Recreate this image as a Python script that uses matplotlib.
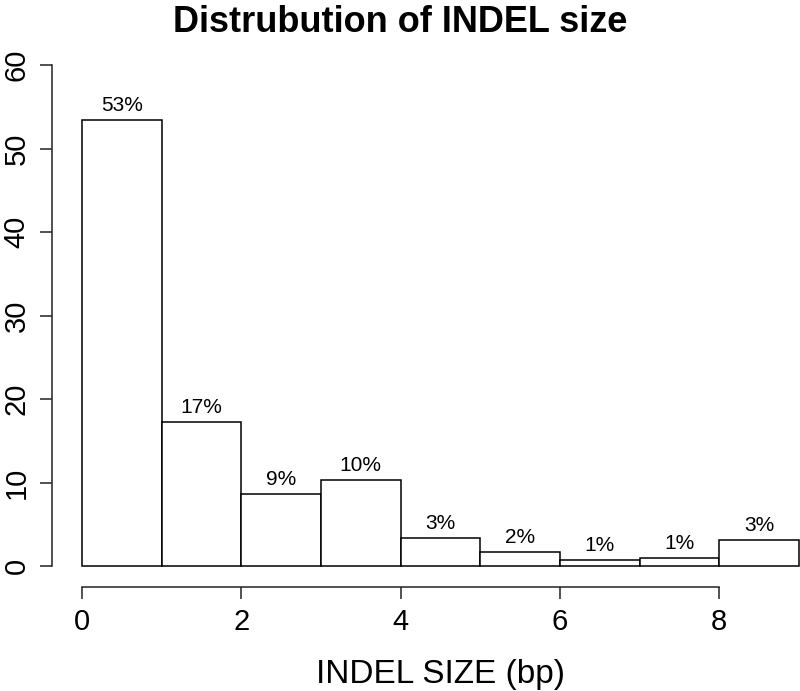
import matplotlib
matplotlib.use("Agg")
import matplotlib.pyplot as plt
import numpy as np

# histogram of indel sizes (percent per 1 bp bin)
bin_left = [0, 1, 2, 3, 4, 5, 6, 7, 8]
pct = [53.4, 17.2, 8.6, 10.3, 3.3, 1.7, 0.75, 0.96, 3.1]
pct_labels = ["53%", "17%", "9%", "10%", "3%", "2%", "1%", "1%", "3%"]
xticks = [0, 2, 4, 6, 8]
yticks = [0, 10, 20, 30, 40, 50, 60]

plt.rcParams['font.family'] = ['Liberation Sans', 'DejaVu Sans']

fig = plt.figure(figsize=(8, 6.91), dpi=100)
W, H = 800, 691
ax = fig.add_axes([82 / W, (H - 566) / H, 717 / W, (566 - 65) / H])

ax.bar(bin_left, pct, width=1, align='edge', color='white',
       edgecolor='black', linewidth=1.1, clip_on=False)
for x, h, lab in zip(bin_left, pct, pct_labels):
    ax.text(x + 0.5, h + 0.6, lab, ha='center', va='bottom', fontsize=15)

ax.set_xlim(0, 9)
ax.set_ylim(0, 60)

# R-style detached axes
for s in ['top', 'right']:
    ax.spines[s].set_visible(False)
ax.spines['left'].set_position(('outward', 21.6))
ax.spines['bottom'].set_position(('outward', 15.1))
ax.spines['left'].set_bounds(0, 60)
ax.spines['bottom'].set_bounds(0, 8)
for s in ['left', 'bottom']:
    ax.spines[s].set_linewidth(1.1)
    ax.spines[s].set_color('#222222')

ax.set_xticks(xticks)
ax.set_yticks(yticks)
ax.tick_params(axis='both', length=8.5, width=1.1, color='#222222',
               labelsize=21, pad=7)
plt.setp(ax.get_yticklabels(), rotation=90, va='center')

fig.text(0.5, 1 - 31.5 / H, "Distrubution of INDEL size", ha='center',
         va='baseline', fontsize=26, fontweight='bold')
fig.text(440 / W, 1 - 683 / H, "INDEL SIZE (bp)", ha='center',
         va='baseline', fontsize=24)

fig.savefig("out.png", dpi=100)
